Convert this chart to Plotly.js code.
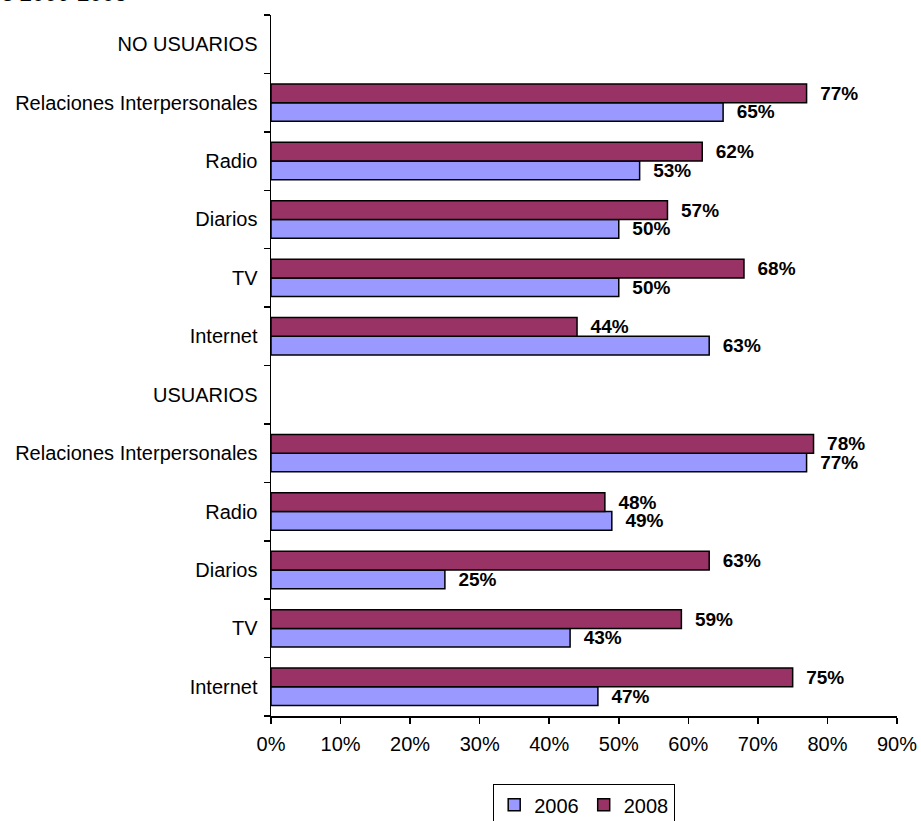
<!DOCTYPE html>
<html>
<head>
<meta charset="utf-8">
<script src="https://cdn.plot.ly/plotly-3.0.1.min.js"></script>
<style>
html,body{margin:0;padding:0;background:#fff;}
#chart{width:921px;height:821px;}
</style>
</head>
<body>
<div id="chart"></div>
<script>
// Categories listed bottom-to-top (as the chart's axis runs)
const tickLabels = ["Internet","TV","Diarios","Radio","Relaciones Interpersonales","USUARIOS",
                    "Internet","TV","Diarios","Radio","Relaciones Interpersonales","NO USUARIOS"];
const categoryKeys = ["U_Internet","U_TV","U_Diarios","U_Radio","U_Relaciones","USUARIOS",
                      "N_Internet","N_TV","N_Diarios","N_Radio","N_Relaciones","NO_USUARIOS"];
const values2006 = [47,43,25,49,77,null,63,50,50,53,65,null];
const values2008 = [75,59,63,48,78,null,44,68,57,62,77,null];
const seriesNames = ["2006","2008"];
const titleText = "s 2006-2008";

const FONT = "Arial, 'Liberation Sans', sans-serif";
const labelFont = {family: FONT, size: 19, color: "#000", weight: "bold"};

function makeTrace(name, vals, color) {
  return {
    type: "bar",
    orientation: "h",
    name: name,
    y: categoryKeys,
    x: vals,
    marker: {color: color, line: {color: "#000", width: 1.5}},
    texttemplate: "\u00a0\u00a0%{x}",
    textposition: "outside",
    textfont: labelFont,
    constraintext: "none",
    cliponaxis: false,
    hoverinfo: "skip"
  };
}

const data = [
  makeTrace(seriesNames[0], values2006, "#9999FF"),
  makeTrace(seriesNames[1], values2008, "#993366")
];

const layout = {
  width: 921, height: 821,
  margin: {l: 271, r: 24, t: 15, b: 105, pad: 0, autoexpand: false},
  paper_bgcolor: "#fff", plot_bgcolor: "#fff",
  barmode: "group",
  bargap: 0.36,
  bargroupgap: 0,
  font: {family: FONT, size: 20, color: "#000"},
  showlegend: true,
  legend: {
    orientation: "h", x: 0.5, xanchor: "center", y: -0.097, yanchor: "top",
    bordercolor: "#000", borderwidth: 1.2, font: {family: FONT, size: 20, color: "#000"},
    itemwidth: 30, tracegroupgap: 0
  },
  xaxis: {
    range: [0, 90], dtick: 10, tick0: 0, ticksuffix: "%",
    showgrid: false, zeroline: false,
    showline: true, linecolor: "#000", linewidth: 1.5,
    ticks: "outside", ticklen: 6, tickwidth: 1.5, tickcolor: "#000",
    ticklabelstandoff: 3,
    tickfont: {family: FONT, size: 20, color: "#000"},
    fixedrange: true
  },
  yaxis: {
    type: "category",
    categoryorder: "array", categoryarray: categoryKeys,
    tickmode: "array", tickvals: categoryKeys, ticktext: tickLabels,
    tickson: "boundaries",
    showgrid: false, zeroline: false,
    showline: true, linecolor: "#000", linewidth: 1.5,
    ticks: "outside", ticklen: 6, tickwidth: 1.5, tickcolor: "#000",
    ticklabelstandoff: 8,
    tickfont: {family: FONT, size: 20, color: "#000"},
    fixedrange: true
  },
  annotations: [{
    text: titleText, xref: "paper", yref: "paper",
    x: -271/626, xanchor: "left", y: 1.0095, yanchor: "bottom",
    showarrow: false, font: {family: FONT, size: 22.5, color: "#000"}
  }]
};

Plotly.newPlot("chart", data, layout, {displayModeBar: false, staticPlot: true});
</script>
</body>
</html>
